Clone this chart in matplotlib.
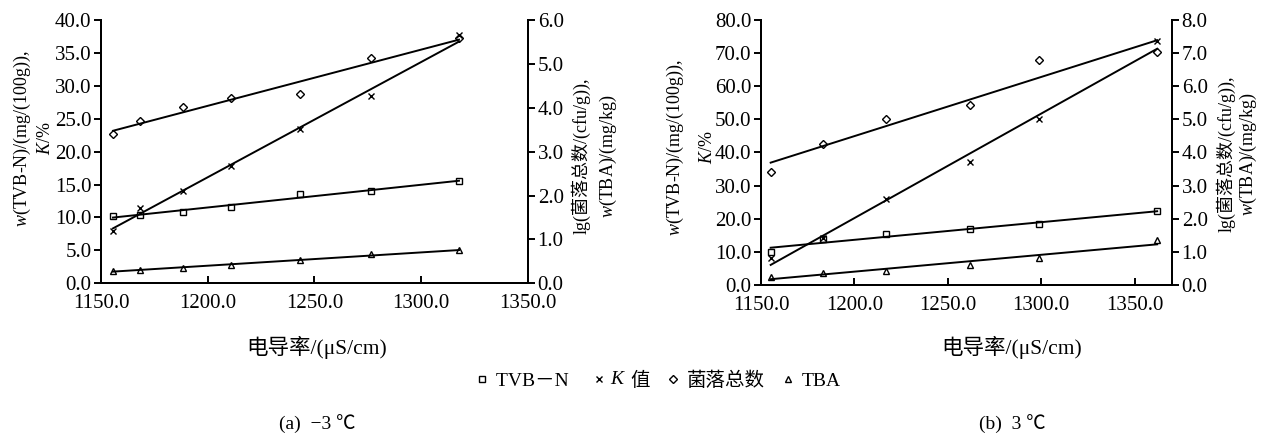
import numpy as np
import matplotlib
matplotlib.use('Agg')
import matplotlib.pyplot as plt
from matplotlib.lines import Line2D
from matplotlib.text import Text
from matplotlib.legend_handler import HandlerBase

plt.rcParams['font.family'] = ['Liberation Serif', 'Noto Sans CJK SC']
plt.rcParams['mathtext.fontset'] = 'custom'
plt.rcParams['mathtext.rm'] = 'Liberation Serif'
plt.rcParams['mathtext.it'] = 'Liberation Serif:italic'
plt.rcParams['axes.unicode_minus'] = False

# (a) -3 ℃
x_a = [1155.6, 1168.3, 1188.2, 1210.9, 1243.2, 1276.5, 1317.7]
tvbn_a = [10.2, 10.4, 10.9, 11.6, 13.5, 14.0, 15.6]
k_a = [8.0, 11.5, 14.1, 17.8, 23.4, 28.5, 37.7]
tvc_a = [3.41, 3.70, 4.02, 4.23, 4.31, 5.13, 5.60]
tba_a = [0.28, 0.31, 0.35, 0.41, 0.52, 0.66, 0.75]

# (b) 3 ℃
x_b = [1155.2, 1183.3, 1216.8, 1262.1, 1298.8, 1362.1]
tvbn_b = [9.9, 13.8, 15.3, 16.9, 18.4, 22.2]
k_b = [8.0, 14.1, 26.0, 37.2, 50.0, 73.5]
tvc_b = [3.42, 4.25, 5.00, 5.42, 6.79, 7.04]
tba_b = [0.25, 0.37, 0.43, 0.60, 0.81, 1.36]

xticks = [1150, 1200, 1250, 1300, 1350]
legend_labels = ['TVB－N     ', '值', '菌落总数', 'TBA']
captions = ['(a)  −3 ℃', '(b)  3 ℃']

W, H = 1263, 433
FS = 15

fig = plt.figure(figsize=(W / 100, H / 100), dpi=100)


def draw_panel(rect, x, tvbn, k, tvc, tba, xlim, ylim, ystep, y2lim, xlab_x):
    ax = fig.add_axes(rect)
    ax2 = ax.twinx()
    xs = np.array([min(x), max(x)])
    for a, y, m, ms in [(ax, tvbn, 's', 5), (ax, k, 'x', 5), (ax2, tvc, 'D', 4.2), (ax2, tba, '^', 5)]:
        a.plot(x, y, ls='none', marker=m, color='black', mfc='none', mew=1.0, ms=ms, clip_on=False)
        p = np.polyfit(x, y, 1)
        a.plot(xs, np.polyval(p, xs), color='black', lw=1.4)
    ax.set_xlim(*xlim)
    ax.set_ylim(*ylim)
    ax2.set_ylim(*y2lim)
    ax.set_xticks(xticks)
    ax.set_xticklabels(['%.1f' % v for v in xticks])
    yt = np.arange(ylim[0], ylim[1] + 0.1, ystep)
    ax.set_yticks(yt)
    ax.set_yticklabels(['%.1f' % v for v in yt])
    yt2 = np.arange(0, y2lim[1] + 0.1, 1)
    ax2.set_yticks(yt2)
    ax2.set_yticklabels(['%.1f' % v for v in yt2])
    for a in (ax, ax2):
        a.spines['top'].set_visible(False)
        for s in a.spines.values():
            s.set_linewidth(1.4)
    ax.tick_params(axis='x', direction='in', length=5, width=1.4, labelsize=FS, pad=8)
    ax.tick_params(axis='y', direction='out', length=5, width=1.4, labelsize=FS, pad=2)
    ax2.tick_params(axis='y', direction='out', length=5, width=1.4, labelsize=FS, pad=2)
    fig.text(xlab_x / W, 1 - 347 / H, '电导率/(μS/cm)', ha='center', va='center', fontsize=15.5)
    return ax, ax2


axa, axa2 = draw_panel([0.080, 0.346, 0.338, 0.607], x_a, tvbn_a, k_a, tvc_a, tba_a,
                       (1150, 1350), (0, 40), 5, (0, 6), 317)
axb, axb2 = draw_panel([0.6025, 0.342, 0.3254, 0.612], x_b, tvbn_b, k_b, tvc_b, tba_b,
                       (1150, 1370), (0, 80), 10, (0, 8), 1012)

LFS = 13
# left axis titles
for xl1, xl2, yc in [(22, 46, 0.68), (675, 708, 0.66)]:
    fig.text(xl1 / W, yc, '$w$(TVB-N)/(mg/(100g)),', rotation=90, ha='center', va='center', fontsize=LFS)
    fig.text(xl2 / W, yc, '$K$/%', rotation=90, ha='center', va='center', fontsize=LFS)
# right axis titles
for xr1, xr2, yc in [(581, 608, 0.64), (1226, 1248, 0.645)]:
    fig.text(xr1 / W, yc, 'lg(菌落总数/(cfu/g)),', rotation=90, ha='center', va='center', fontsize=LFS)
    fig.text(xr2 / W, yc, '$w$(TBA)/(mg/kg)', rotation=90, ha='center', va='center', fontsize=LFS)


class MarkHandler(HandlerBase):
    # marker sits near the label; the K entry also carries an italic "K"
    def __init__(self, with_k=False):
        super().__init__()
        self.with_k = with_k

    def create_artists(self, legend, orig_handle, xdescent, ydescent, width, height, fontsize, trans):
        y = height / 2 - ydescent
        arts = []
        if self.with_k:
            xm = width - 18.5
            arts.append(Text(width + 1.5 - xdescent, y, '$K$', ha='right', va='center',
                             fontsize=fontsize, transform=trans))
        else:
            xm = width - 5.8
        ln = Line2D([xm - xdescent], [y], ls='none', marker=orig_handle.get_marker(),
                    color='black', mfc='none', mew=1.0, ms=orig_handle.get_markersize(),
                    transform=trans)
        arts.insert(0, ln)
        return arts


handles = [Line2D([], [], ls='none', marker=m, color='black', mfc='none', mew=1.0, ms=s)
           for m, s in [('s', 5), ('x', 5), ('D', 4), ('^', 5)]]
hmap = {h: MarkHandler(with_k=(i == 1)) for i, h in enumerate(handles)}
leg = fig.legend(handles, legend_labels, loc='center', bbox_to_anchor=(651 / W, 1 - 381 / H),
                 ncol=4, frameon=False, fontsize=14, handlelength=21 / 14, handletextpad=0.3,
                 columnspacing=0.1, handler_map=hmap)

fig.text(317 / W, 1 - 424 / H, captions[0], ha='center', va='center', fontsize=14)
fig.text(1012 / W, 1 - 424 / H, captions[1], ha='center', va='center', fontsize=14)

fig.savefig('out.png', dpi=100)
